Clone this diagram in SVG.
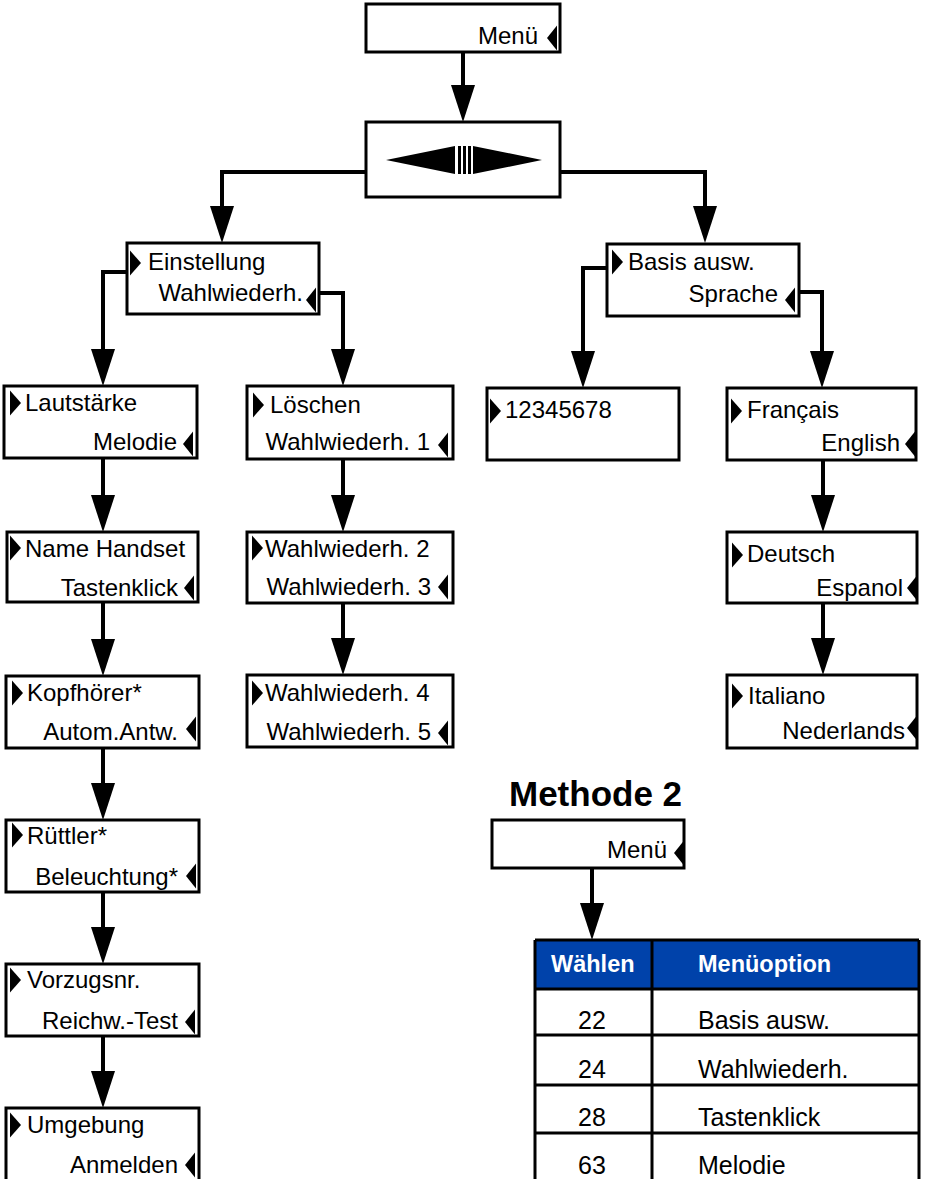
<svg xmlns="http://www.w3.org/2000/svg" xmlns:xlink="http://www.w3.org/1999/xlink" width="925" height="1179" viewBox="0 0 925 1179">
<style>
.box{fill:#fff;stroke:#000;stroke-width:3}
.t{font-family:"Liberation Sans",Arial,sans-serif;font-size:24px;fill:#000}
.e{text-anchor:end}
.m{text-anchor:middle}
.tb{font-family:"Liberation Sans",Arial,sans-serif;font-size:25px;fill:#000}
.th{font-family:"Liberation Sans",Arial,sans-serif;font-size:23.5px;font-weight:bold;fill:#fff}
.conn{fill:none;stroke:#000;stroke-width:4}
.grid{fill:none;stroke:#000;stroke-width:3}
</style>
<defs>
<marker id="ah" markerUnits="userSpaceOnUse" markerWidth="38" markerHeight="26" viewBox="0 -13 38 26" refX="0" refY="0" orient="auto" overflow="visible">
<path d="M0,-12 L37,0 L0,12 Z" fill="#000"/>
</marker>
<path id="tr" d="M0,-12.5 L11,0 L0,12.5 Z" fill="#000"/>
<path id="tl" d="M10,-12.5 L0,0 L10,12.5 Z" fill="#000"/>
</defs>

<g id="connectors">
<path class="conn" d="M463,52 V85" marker-end="url(#ah)"/>
<path class="conn" d="M366,172 H222 V206" marker-end="url(#ah)"/>
<path class="conn" d="M560,172 H705 V206" marker-end="url(#ah)"/>
<path class="conn" d="M127,272 H103 V349" marker-end="url(#ah)"/>
<path class="conn" d="M319,293 H343 V349" marker-end="url(#ah)"/>
<path class="conn" d="M607,268 H583 V351" marker-end="url(#ah)"/>
<path class="conn" d="M799,292 H822 V351" marker-end="url(#ah)"/>
<path class="conn" d="M103,458 V495" marker-end="url(#ah)"/>
<path class="conn" d="M103,602 V639" marker-end="url(#ah)"/>
<path class="conn" d="M103,748 V783" marker-end="url(#ah)"/>
<path class="conn" d="M103,892 V927" marker-end="url(#ah)"/>
<path class="conn" d="M103,1036 V1071" marker-end="url(#ah)"/>
<path class="conn" d="M343,459 V495" marker-end="url(#ah)"/>
<path class="conn" d="M343,603 V638" marker-end="url(#ah)"/>
<path class="conn" d="M823,460 V495" marker-end="url(#ah)"/>
<path class="conn" d="M823,603 V638" marker-end="url(#ah)"/>
<path class="conn" d="M592,868 V903" marker-end="url(#ah)"/>
</g>

<g id="menu1">
<rect class="box" x="366" y="4" width="194" height="48"/>
<text class="t e" x="538" y="44">Menü</text>
<use xlink:href="#tl" x="547" y="38"/>
</g>

<g id="nav">
<rect class="box" x="366" y="122" width="194" height="75"/>
<polygon points="386,160 455,146 455,174" fill="#000"/>
<rect x="458" y="146" width="3" height="28" fill="#000"/>
<rect x="463" y="146" width="3" height="28" fill="#000"/>
<rect x="468" y="146" width="3" height="28" fill="#000"/>
<polygon points="473,146 473,174 542,160" fill="#000"/>
</g>

<g id="einstellung">
<rect class="box" x="127" y="243" width="192" height="71"/>
<use xlink:href="#tr" x="130" y="263"/>
<text class="t" x="148" y="270">Einstellung</text>
<text class="t e" x="303" y="301">Wahlwiederh.</text>
<use xlink:href="#tl" x="306" y="300"/>
</g>

<g id="lautstaerke">
<rect class="box" x="4" y="386" width="193" height="72"/>
<use xlink:href="#tr" x="10" y="403"/>
<text class="t" x="25" y="411">Lautstärke</text>
<text class="t e" x="177" y="450">Melodie</text>
<use xlink:href="#tl" x="183" y="444"/>
</g>

<g id="namehandset">
<rect class="box" x="7" y="532" width="191" height="70"/>
<use xlink:href="#tr" x="10" y="548"/>
<text class="t" x="25" y="557">Name Handset</text>
<text class="t e" x="178" y="596">Tastenklick</text>
<use xlink:href="#tl" x="184" y="588"/>
</g>

<g id="kopfhoerer">
<rect class="box" x="6" y="676" width="193" height="72"/>
<use xlink:href="#tr" x="12" y="693"/>
<text class="t" x="27" y="701">Kopfhörer*</text>
<text class="t e" x="178" y="740">Autom.Antw.</text>
<use xlink:href="#tl" x="186" y="729"/>
</g>

<g id="ruettler">
<rect class="box" x="6" y="820" width="193" height="72"/>
<use xlink:href="#tr" x="12" y="835"/>
<text class="t" x="27" y="844">Rüttler*</text>
<text class="t e" x="178" y="885">Beleuchtung*</text>
<use xlink:href="#tl" x="186" y="876"/>
</g>

<g id="vorzugsnr">
<rect class="box" x="6" y="964" width="193" height="72"/>
<use xlink:href="#tr" x="10" y="980"/>
<text class="t" x="27" y="988">Vorzugsnr.</text>
<text class="t e" x="178" y="1029">Reichw.-Test</text>
<use xlink:href="#tl" x="185" y="1022"/>
</g>

<g id="umgebung">
<rect class="box" x="6" y="1108" width="193" height="76"/>
<use xlink:href="#tr" x="10" y="1125"/>
<text class="t" x="27" y="1133">Umgebung</text>
<text class="t e" x="178" y="1173">Anmelden</text>
<use xlink:href="#tl" x="185" y="1165"/>
</g>

<g id="loeschen">
<rect class="box" x="247" y="386" width="206" height="73"/>
<use xlink:href="#tr" x="253" y="405"/>
<text class="t" x="270" y="413">Löschen</text>
<text class="t e" x="430" y="450">Wahlwiederh. 1</text>
<use xlink:href="#tl" x="438" y="445"/>
</g>

<g id="wahl23">
<rect class="box" x="247" y="532" width="206" height="71"/>
<use xlink:href="#tr" x="252" y="548"/>
<text class="t" x="265" y="557">Wahlwiederh. 2</text>
<text class="t e" x="431" y="595">Wahlwiederh. 3</text>
<use xlink:href="#tl" x="438" y="587"/>
</g>

<g id="wahl45">
<rect class="box" x="247" y="675" width="206" height="72"/>
<use xlink:href="#tr" x="252" y="693"/>
<text class="t" x="265" y="701">Wahlwiederh. 4</text>
<text class="t e" x="431" y="740">Wahlwiederh. 5</text>
<use xlink:href="#tl" x="438" y="733"/>
</g>

<g id="basis">
<rect class="box" x="607" y="244" width="192" height="72"/>
<use xlink:href="#tr" x="612" y="262"/>
<text class="t" x="628" y="270">Basis ausw.</text>
<text class="t e" x="778" y="302">Sprache</text>
<use xlink:href="#tl" x="785" y="300"/>
</g>

<g id="nummer">
<rect class="box" x="487" y="388" width="192" height="72"/>
<use xlink:href="#tr" x="490" y="411"/>
<text class="t" x="505" y="418">12345678</text>
</g>

<g id="francais">
<rect class="box" x="727" y="388" width="189" height="72"/>
<use xlink:href="#tr" x="731" y="411"/>
<text class="t" x="747" y="418">Français</text>
<text class="t e" x="900" y="451">English</text>
<use xlink:href="#tl" x="905" y="444"/>
</g>

<g id="deutsch">
<rect class="box" x="727" y="532" width="190" height="71"/>
<use xlink:href="#tr" x="732" y="555"/>
<text class="t" x="747" y="562">Deutsch</text>
<text class="t e" x="903" y="596">Espanol</text>
<use xlink:href="#tl" x="907" y="588"/>
</g>

<g id="italiano">
<rect class="box" x="727" y="675" width="190" height="73"/>
<use xlink:href="#tr" x="732" y="696"/>
<text class="t" x="748" y="704">Italiano</text>
<text class="t e" x="905" y="739">Nederlands</text>
<use xlink:href="#tl" x="907" y="728"/>
</g>

<g id="methode2">
<text x="509" y="806" font-family="Liberation Sans,Arial,sans-serif" font-size="35" font-weight="bold" fill="#000">Methode 2</text>
</g>

<g id="menu2">
<rect class="box" x="492" y="820" width="192" height="48"/>
<text class="t e" x="667" y="858">Menü</text>
<use xlink:href="#tl" x="674" y="853"/>
</g>

<g id="table">
<rect x="535" y="940" width="384" height="49" fill="#0042AA"/>
<path class="grid" d="M535,940 H919 M535,989 H920 M535,1035 H920 M535,1085 H920 M535,1133 H920 M535,940 V1179 M652,940 V1179 M919,940 V1179"/>
<text class="th" x="551" y="972">Wählen</text>
<text class="th" x="698" y="972">Menüoption</text>
<text class="tb m" x="592" y="1029">22</text>
<text class="tb" x="698" y="1029">Basis ausw.</text>
<text class="tb m" x="592" y="1078">24</text>
<text class="tb" x="698" y="1078">Wahlwiederh.</text>
<text class="tb m" x="592" y="1126">28</text>
<text class="tb" x="698" y="1126">Tastenklick</text>
<text class="tb m" x="592" y="1174">63</text>
<text class="tb" x="698" y="1174">Melodie</text>
</g>
</svg>
